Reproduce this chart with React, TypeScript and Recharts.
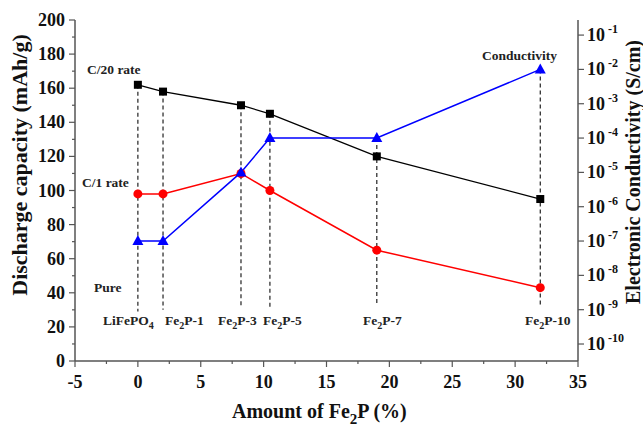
import { ComposedChart, Customized, Line, ReferenceLine, XAxis, YAxis } from "recharts";

// Fe2P content (%) and sample names
const fe2pAmount = [0, 2, 8.2, 10.5, 19, 32];
const sampleNames = ["LiFePO4", "Fe2P-1", "Fe2P-3", "Fe2P-5", "Fe2P-7", "Fe2P-10"];

// discharge capacity (mAh/g)
const capacityC20 = [162, 158, 150, 145, 120, 95];
const capacityC1 = [98, 98, 110, 100, 65, 43];

// electronic conductivity (S/cm)
const conductivity = [1e-7, 1e-7, 1e-5, 1e-4, 1e-4, 1e-2];

// where the dashed drop lines stop (left axis units)
const dropBottom = [29, 30, 31, 31, 34, 33];

const xTicks = [-5, -2.5, 0, 2.5, 5, 7.5, 10, 12.5, 15, 17.5, 20, 22.5, 25, 27.5, 30, 32.5, 35];
const leftTicks = [0, 10, 20, 30, 40, 50, 60, 70, 80, 90, 100, 110, 120, 130, 140, 150, 160, 170, 180, 190, 200];
const rightTicks = [1e-10, 1e-9, 1e-8, 1e-7, 1e-6, 1e-5, 1e-4, 1e-3, 1e-2, 1e-1];

const LOG_MIN = 3.2e-11;
const LOG_MAX = 0.275;

const FONT = "'Liberation Serif', 'Times New Roman', serif";
const AXIS = "#555";

const data = fe2pAmount.map((x, i) => ({
    x,
    c20: capacityC20[i],
    c1: capacityC1[i],
    cond: conductivity[i],
}));

// conductivity expressed on the left axis scale, to find the top of each drop line
const toLeft = (v: number) =>
    ((Math.log10(v) - Math.log10(LOG_MIN)) / (Math.log10(LOG_MAX) - Math.log10(LOG_MIN))) * 200;

const dropTop = fe2pAmount.map((_, i) => Math.max(capacityC20[i], capacityC1[i], toLeft(conductivity[i])));

const XTick = ({ x, y, payload }: any) => {
    const major = payload.value % 5 === 0;
    return <g>
        <line x1={x} x2={x} y1={y} y2={y + (major ? 6 : 3)} stroke={AXIS} strokeWidth={1.2} />
        {major && <text x={x} y={y + 27} textAnchor="middle" fontFamily={FONT} fontWeight="bold" fontSize={18} fill="#111">{payload.value}</text>}
    </g>;
};

const LeftTick = ({ x, y, payload }: any) => {
    const major = payload.value % 20 === 0;
    return <g>
        <line x1={x} x2={x - (major ? 6 : 3)} y1={y} y2={y} stroke={AXIS} strokeWidth={1.2} />
        {major && <text x={x - 10} y={y + 6} textAnchor="end" fontFamily={FONT} fontWeight="bold" fontSize={18} fill="#111">{payload.value}</text>}
    </g>;
};

const RightTick = ({ x, y, payload }: any) => {
    const exp = Math.round(Math.log10(payload.value));
    return <g>
        <line x1={x} x2={x + 6} y1={y} y2={y} stroke={AXIS} strokeWidth={1.2} />
        <text x={x + 9} y={y + 6} fontFamily={FONT} fontWeight="bold" fontSize={18} fill="#111">
            10<tspan dx={3} dy={-8} fontSize={12}>{exp}</tspan>
        </text>
    </g>;
};

const Square = ({ cx, cy }: any) => <rect x={cx - 4} y={cy - 4} width={8} height={8} fill="#000" />;
const Circle = ({ cx, cy }: any) => <circle cx={cx} cy={cy} r={4.5} fill="#ff0000" />;
const Triangle = ({ cx, cy }: any) =>
    <polygon points={`${cx},${cy - 6} ${cx - 5.5},${cy + 4} ${cx + 5.5},${cy + 4}`} fill="#0000ff" />;

const Fe2P = ({ x, y, suffix, size = 13.5 }: any) =>
    <text x={x} y={y} fontFamily={FONT} fontWeight="bold" fontSize={size} fill="#222">
        Fe<tspan dy={size * 0.3} fontSize={size * 0.75}>2</tspan><tspan dy={-size * 0.3}>{suffix}</tspan>
    </text>;

const sampleLabelPos = [
    { x: 103, y: 325 },
    { x: 165, y: 325 },
    { x: 218, y: 325 },
    { x: 263, y: 325 },
    { x: 363, y: 325 },
    { x: 525, y: 325 },
];

const Annotations = () => <g>
    <text x={87} y={74} fontFamily={FONT} fontWeight="bold" fontSize={13.5} fill="#222">C/20 rate</text>
    <text x={82} y={187} fontFamily={FONT} fontWeight="bold" fontSize={13.5} fill="#222">C/1 rate</text>
    <text x={94} y={292} fontFamily={FONT} fontWeight="bold" fontSize={13.5} fill="#222">Pure</text>
    <text x={482} y={60} fontFamily={FONT} fontWeight="bold" fontSize={13.5} fill="#222">Conductivity</text>
    {sampleNames.map((name, i) => name === "LiFePO4"
        ? <text key={name} x={sampleLabelPos[i].x} y={sampleLabelPos[i].y} fontFamily={FONT} fontWeight="bold" fontSize={13.5} fill="#222">
            LiFePO<tspan dy={4} fontSize={10}>4</tspan>
        </text>
        : <Fe2P key={name} x={sampleLabelPos[i].x} y={sampleLabelPos[i].y} suffix={name.slice(3)} />)}
    <text x={0} y={0} fontFamily={FONT} fontWeight="bold" fontSize={22} fill="#111" textAnchor="middle"
        transform="translate(27,165) rotate(-90)">Discharge capacity (mAh/g)</text>
    <text x={0} y={0} fontFamily={FONT} fontWeight="bold" fontSize={20} fill="#111" textAnchor="middle"
        transform="translate(640,172) rotate(-90)">Electronic Conductivity (S/cm)</text>
    <text x={232} y={418} fontFamily={FONT} fontWeight="bold" fontSize={20} fill="#111">
        Amount of Fe<tspan dy={6} fontSize={15}>2</tspan><tspan dy={-6}>P (%)</tspan>
    </text>
</g>;

export default function App() {
    return <div style={{ position: "absolute", left: 0, top: 0, background: "#fff" }}>
        <ComposedChart width={643} height={429} data={data} margin={{ top: 20, right: 0, bottom: 0, left: 0 }}>
            <XAxis dataKey="x" type="number" domain={[-5, 35]} ticks={xTicks} interval={0} height={68}
                tick={<XTick />} tickLine={false} tickSize={0} tickMargin={0}
                axisLine={{ stroke: AXIS, strokeWidth: 1.5 }} />
            <XAxis xAxisId="top" dataKey="x" type="number" domain={[-5, 35]} orientation="top" height={0}
                tick={false} tickLine={false} axisLine={{ stroke: AXIS, strokeWidth: 1.5 }} />
            <YAxis yAxisId="left" domain={[0, 200]} ticks={leftTicks} interval={0} width={75}
                tick={<LeftTick />} tickLine={false} tickSize={0} tickMargin={0}
                axisLine={{ stroke: AXIS, strokeWidth: 1.5 }} />
            <YAxis yAxisId="right" orientation="right" scale="log" domain={[LOG_MIN, LOG_MAX]} allowDataOverflow
                ticks={rightTicks} interval={0} width={65}
                tick={<RightTick />} tickLine={false} tickSize={0} tickMargin={0}
                axisLine={{ stroke: AXIS, strokeWidth: 1.5 }} />
            {fe2pAmount.map((x, i) =>
                <ReferenceLine key={x} yAxisId="left" stroke="#222" strokeWidth={1.2} strokeDasharray="4 3"
                    segment={[{ x, y: dropTop[i] }, { x, y: dropBottom[i] }]} />)}
            <Line yAxisId="left" dataKey="c20" stroke="#000" strokeWidth={1.3} dot={<Square />} isAnimationActive={false} />
            <Line yAxisId="left" dataKey="c1" stroke="#ff0000" strokeWidth={1.5} dot={<Circle />} isAnimationActive={false} />
            <Line yAxisId="right" dataKey="cond" stroke="#0000ff" strokeWidth={1.5} dot={<Triangle />} isAnimationActive={false} />
            <Customized component={<Annotations />} />
        </ComposedChart>
    </div>;
}
